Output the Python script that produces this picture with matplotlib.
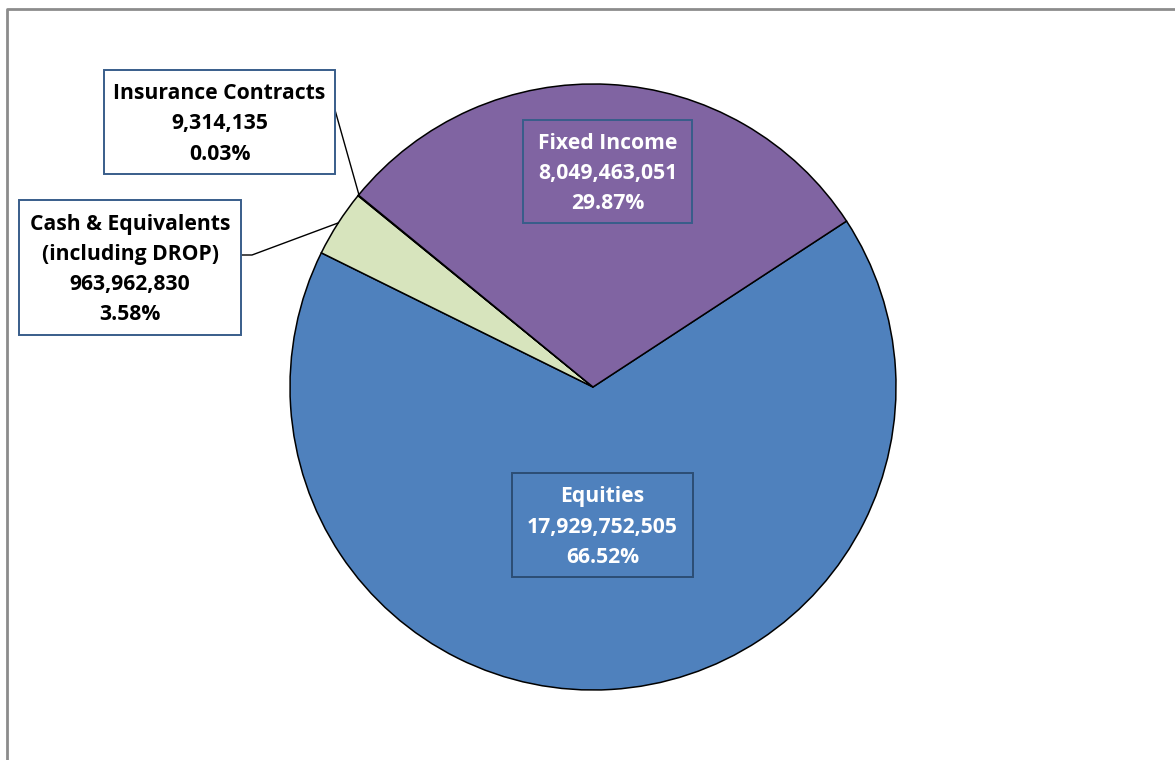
import matplotlib
matplotlib.use("Agg")
import matplotlib.pyplot as plt
from matplotlib.patches import Rectangle

# Data
categories = ["Equities", "Cash & Equivalents\n(including DROP)", "Insurance Contracts", "Fixed Income"]
values = [17929752505, 963962830, 9314135, 8049463051]
colors = ["#4F81BD", "#D7E4BD", "#4BACC6", "#8064A2"]

W, H = 1175, 760
fig = plt.figure(figsize=(W / 100, H / 100), dpi=100)
ax = fig.add_axes([0, 0, 1, 1])

def Y(y):
    return H - y

cx, cy, r = 593, 387, 303
ax.pie(values, colors=colors, startangle=33.2, counterclock=False,
       center=(cx, Y(cy)), radius=r,
       wedgeprops=dict(edgecolor="black", linewidth=1.1))
ax.set_xlim(0, W)
ax.set_ylim(0, H)
ax.set_aspect("equal")
ax.axis("off")

total = sum(values)

def label_text(i):
    return f"{categories[i]}\n{values[i]:,}\n{values[i] / total * 100:.2f}%"

font = dict(family=["Open Sans", "DejaVu Sans"], fontweight="bold", fontsize=15.2,
            ha="center", va="center", linespacing=1.58)

# boxes: (x0, y0, x1, y1) in pixel coords, text color, edge color
boxes = {
    0: ((512, 473, 693, 577), "white", "#2C4D75"),
    1: ((19, 200, 241, 335), "black", "#385D8A"),
    2: ((104, 70, 335, 174), "black", "#385D8A"),
    3: ((523, 120, 692, 223), "white", "#385D8A"),
}
for i, ((x0, y0, x1, y1), tc, ec) in boxes.items():
    fc = "white" if tc == "black" else "none"
    ax.add_patch(Rectangle((x0, Y(y1)), x1 - x0, y1 - y0, facecolor=fc,
                           edgecolor=ec, linewidth=1.4, zorder=5))
    ax.text((x0 + x1) / 2, Y((y0 + y1) / 2 + 2), label_text(i), color=tc,
            zorder=6, **font)

# leader lines
ax.plot([335, 359], [Y(110), Y(195)], color="black", lw=1, zorder=4)
ax.plot([241, 252, 338], [Y(255), Y(255), Y(223)], color="black", lw=1, zorder=4)

# outer chart frame
ax.plot([7, 7, W + 5], [-5, Y(9), Y(9)], color="#8c8c8c", lw=2, zorder=7,
        clip_on=False)

fig.savefig("out.png", dpi=100, facecolor="white")
